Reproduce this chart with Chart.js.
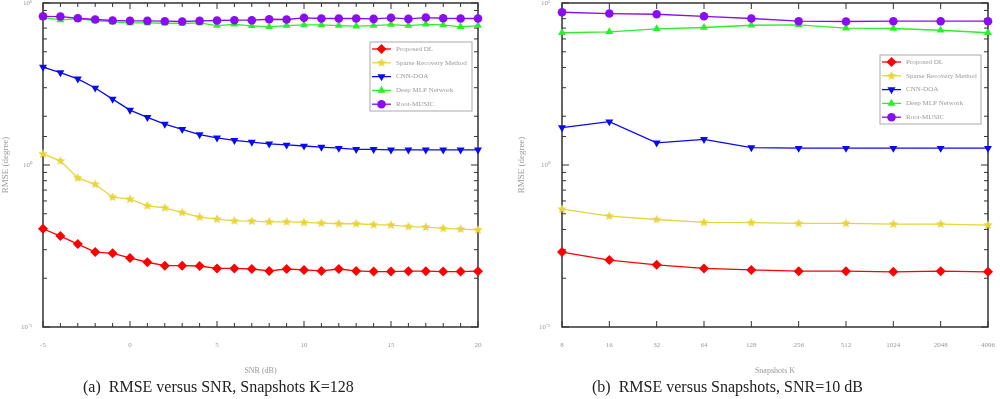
<!DOCTYPE html>
<html>
<head>
<meta charset="utf-8">
<script src="https://cdn.jsdelivr.net/npm/chart.js@4.4.0/dist/chart.umd.min.js"></script>
<style>
  body { margin: 0; background: #fff; width: 1000px; height: 399px; overflow: hidden; position: relative; font-family: "Liberation Serif", serif; }
  .box { position: absolute; top: 0; height: 399px; }
  #left { left: 0; width: 500px; }
  #right { left: 516px; width: 484px; }
  .cap { position: absolute; top: 377px; font-size: 16px; line-height: 20px; color: #222; white-space: nowrap; }
</style>
</head>
<body>
<div class="box" id="left"><canvas id="c1"></canvas></div>
<div class="box" id="right"><canvas id="c2"></canvas></div>
<div class="cap" style="left:83px">(a)&nbsp; RMSE versus SNR, Snapshots K=128</div>
<div class="cap" style="left:592px">(b)&nbsp; RMSE versus Snapshots, SNR=10 dB</div>
<script>
// x categories
const snrLabels = ['-5','-4','-3','-2','-1','0','1','2','3','4','5','6','7','8','9','10','11','12','13','14','15','16','17','18','19','20'];
const snapshotLabels = ['8','16','32','64','128','256','512','1024','2048','4096'];
const legendNames = ['Proposed DL', 'Sparse Recovery Method', 'CNN-DOA', 'Deep MLP Network', 'Root-MUSIC'];

// (a) RMSE vs SNR
const redSnr = [0.404, 0.364, 0.325, 0.290, 0.285, 0.267, 0.251, 0.239, 0.239, 0.238, 0.230, 0.230, 0.228, 0.222, 0.228, 0.225, 0.222, 0.228, 0.222, 0.220, 0.220, 0.221, 0.221, 0.220, 0.220, 0.221];
const yellowSnr = [1.17, 1.06, 0.832, 0.760, 0.633, 0.615, 0.560, 0.544, 0.509, 0.477, 0.463, 0.452, 0.450, 0.446, 0.446, 0.442, 0.438, 0.434, 0.434, 0.428, 0.426, 0.417, 0.414, 0.406, 0.402, 0.398];
const blueSnr = [4.02, 3.72, 3.40, 2.99, 2.55, 2.18, 1.97, 1.79, 1.66, 1.54, 1.47, 1.42, 1.385, 1.35, 1.33, 1.31, 1.29, 1.27, 1.25, 1.25, 1.24, 1.24, 1.24, 1.24, 1.24, 1.24];
const greenSnr = [8.13, 7.87, 7.98, 7.80, 7.65, 7.54, 7.54, 7.50, 7.47, 7.54, 7.26, 7.39, 7.23, 7.13, 7.26, 7.33, 7.33, 7.26, 7.19, 7.26, 7.36, 7.26, 7.39, 7.33, 7.13, 7.26];
const purpleSnr = [8.28, 8.25, 8.05, 7.91, 7.80, 7.76, 7.76, 7.72, 7.69, 7.76, 7.80, 7.83, 7.83, 7.94, 7.91, 8.10, 8.02, 8.02, 8.02, 7.98, 8.10, 7.98, 8.13, 8.05, 8.02, 8.02];

// (b) RMSE vs snapshots
const redSnap = [0.290, 0.259, 0.242, 0.230, 0.225, 0.221, 0.221, 0.219, 0.221, 0.219];
const yellowSnap = [0.534, 0.484, 0.461, 0.442, 0.441, 0.436, 0.436, 0.432, 0.432, 0.426];
const blueSnap = [1.70, 1.85, 1.37, 1.44, 1.28, 1.27, 1.27, 1.27, 1.27, 1.27];
const greenSnap = [6.55, 6.64, 6.93, 7.06, 7.29, 7.33, 6.99, 6.96, 6.79, 6.55];
const purpleSnap = [8.77, 8.61, 8.52, 8.28, 8.02, 7.72, 7.69, 7.72, 7.72, 7.72];

const RED = '#ff0000', YELLOW = '#e6d53c', BLUE = '#0a0aef', GREEN = '#2bef2b', PURPLE = '#8a0cf0';
const faint = '#999';

function makeStar(color, r) {
  const c = document.createElement('canvas');
  const s = Math.ceil(r * 2) + 2;
  c.width = s; c.height = s;
  const g = c.getContext('2d');
  g.fillStyle = color;
  g.beginPath();
  for (let k = 0; k < 10; k++) {
    const rad = k % 2 === 0 ? r : r * 0.45;
    const ang = -Math.PI / 2 + k * Math.PI / 5;
    g.lineTo(s / 2 + rad * Math.cos(ang), s / 2 + rad * Math.sin(ang));
  }
  g.closePath();
  g.fill();
  return c;
}
const star = makeStar(YELLOW, 5);

function series(label, data, color, style, radius, rot, order) {
  return {
    label: label, data: data,
    borderColor: color, backgroundColor: color,
    pointBackgroundColor: color, pointBorderColor: color, pointBorderWidth: 0,
    pointStyle: style, pointRadius: radius, pointRotation: rot,
    borderWidth: 1.3, tension: 0, clip: false, order: order
  };
}

function datasets(r, y, b, g, p) {
  return [
    series(legendNames[0], r, RED, 'rectRot', 5, 0, 3),
    series(legendNames[1], y, YELLOW, star, 5, 0, 3),
    series(legendNames[2], b, BLUE, 'triangle', 4.6, 180, 3),
    series(legendNames[3], g, GREEN, 'triangle', 4.6, 0, 2),
    series(legendNames[4], p, PURPLE, 'circle', 4.3, 0, 1)
  ];
}

// box with inward tick marks on all four sides
const framePlugin = {
  id: 'frame',
  beforeDatasetsDraw(chart) {
    const ctx = chart.ctx, a = chart.chartArea, sx = chart.scales.x, sy = chart.scales.y;
    ctx.save();
    ctx.strokeStyle = '#333';
    ctx.lineWidth = 1.5;
    ctx.strokeRect(a.left, a.top, a.right - a.left, a.bottom - a.top);
    ctx.lineWidth = 1;
    ctx.beginPath();
    sx.ticks.forEach(function(t, i) {
      const x = sx.getPixelForTick(i);
      const len = t.label !== '' ? 6 : 4;
      ctx.moveTo(x, a.bottom); ctx.lineTo(x, a.bottom - len);
      ctx.moveTo(x, a.top); ctx.lineTo(x, a.top + len);
    });
    sy.ticks.forEach(function(t) {
      const y = sy.getPixelForValue(t.value);
      const lg = Math.log10(t.value);
      const len = Math.abs(lg - Math.round(lg)) < 1e-6 ? 7 : 4;
      ctx.moveTo(a.left, y); ctx.lineTo(a.left + len, y);
      ctx.moveTo(a.right, y); ctx.lineTo(a.right - len, y);
    });
    ctx.stroke();
    ctx.restore();
  }
};

const boxLegend = {
  id: 'boxLegend',
  afterDraw(chart, args, opts) {
    const ctx = chart.ctx;
    ctx.save();
    ctx.fillStyle = '#fff';
    ctx.fillRect(opts.x, opts.y, opts.w, opts.h);
    ctx.strokeStyle = '#aaa';
    ctx.lineWidth = 1;
    ctx.strokeRect(opts.x, opts.y, opts.w, opts.h);
    chart.data.datasets.forEach(function(ds, i) {
      const cy = opts.y + 7 + i * 13.8;
      ctx.strokeStyle = ds.borderColor;
      ctx.lineWidth = 1.3;
      ctx.beginPath();
      ctx.moveTo(opts.x + 2, cy); ctx.lineTo(opts.x + 21, cy);
      ctx.stroke();
      ctx.fillStyle = ds.pointBackgroundColor;
      Chart.helpers.drawPoint(ctx, { pointStyle: ds.pointStyle, radius: ds.pointRadius, rotation: ds.pointRotation, borderWidth: 0 }, opts.x + 11.5, cy);
      ctx.fillStyle = faint;
      ctx.font = '7px "Liberation Serif"';
      ctx.textBaseline = 'middle';
      ctx.textAlign = 'left';
      ctx.fillText(ds.label, opts.x + 26, cy);
    });
    ctx.restore();
  }
};

function logLabel(v) {
  const lg = Math.log10(v);
  if (Math.abs(lg - Math.round(lg)) > 1e-6) return '';
  const sup = { '-1': '\u207b\u00b9', '0': '\u2070', '1': '\u00b9' };
  return '10' + sup[String(Math.round(lg))];
}

function makeOptions(yWidth, yPad, padRight, xTitle, xCallback, legendBox) {
  const tickFont = { size: 7, family: 'Liberation Serif' };
  return {
    responsive: true,
    maintainAspectRatio: false,
    animation: false,
    layout: { autoPadding: false, padding: { left: 0, right: padRight, top: 3, bottom: 23 } },
    plugins: {
      legend: { display: false },
      tooltip: { enabled: false },
      boxLegend: legendBox
    },
    scales: {
      x: {
        type: 'category',
        offset: false,
        grid: { display: false, drawTicks: false },
        border: { display: false },
        ticks: { autoSkip: false, maxRotation: 0, padding: 14, color: faint, font: tickFont, callback: xCallback },
        title: { display: true, text: xTitle, padding: 0, color: faint, font: { size: 8, family: 'Liberation Serif' } },
        afterFit: function(s) { s.height = 49; s.paddingLeft = 0; s.paddingRight = 0; }
      },
      y: {
        type: 'logarithmic',
        min: 0.1,
        max: 10,
        grid: { display: false, drawTicks: false },
        border: { display: false },
        ticks: { autoSkip: false, padding: yPad, color: faint, font: tickFont, callback: function(v) { return logLabel(v); } },
        title: { display: true, text: 'RMSE (degree)', padding: 0, color: faint, font: { size: 9, family: 'Liberation Serif' } },
        afterFit: function(s) { s.width = yWidth; s.paddingTop = 0; s.paddingBottom = 0; }
      }
    }
  };
}

new Chart(document.getElementById('c1'), {
  type: 'line',
  data: { labels: snrLabels, datasets: datasets(redSnr, yellowSnr, blueSnr, greenSnr, purpleSnr) },
  options: makeOptions(43, 11, 22, 'SNR (dB)', function(v, i) { return i % 5 === 0 ? snrLabels[i] : ''; }, { x: 370, y: 42, w: 102, h: 69 }),
  plugins: [framePlugin, boxLegend]
});

new Chart(document.getElementById('c2'), {
  type: 'line',
  data: { labels: snapshotLabels, datasets: datasets(redSnap, yellowSnap, blueSnap, greenSnap, purpleSnap) },
  options: makeOptions(46, 12, 12, 'Snapshots K', function(v, i) { return snapshotLabels[i]; }, { x: 364, y: 55, w: 101, h: 69 }),
  plugins: [framePlugin, boxLegend]
});
</script>
</body>
</html>
